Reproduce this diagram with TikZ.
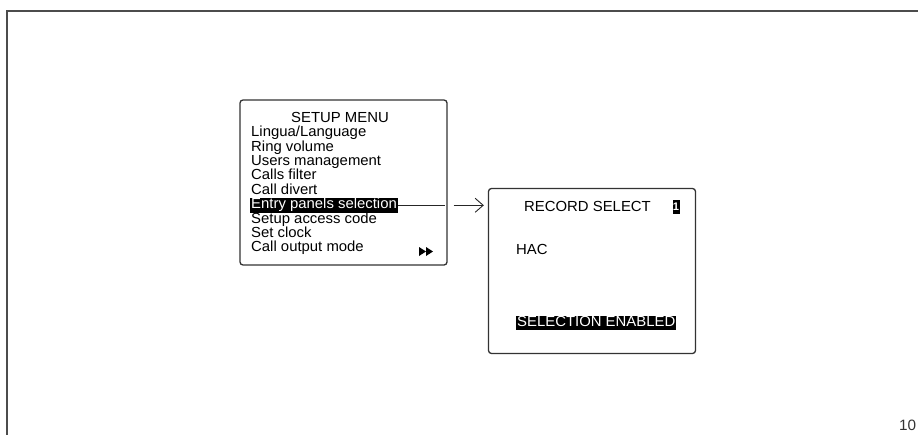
\documentclass[tikz,border=0pt]{standalone}
\usepackage{fontspec}
\setmainfont[FakeStretch=1.02]{Liberation Sans}
\usetikzlibrary{positioning,arrows.meta}

\tikzset{
  screen/.style={draw=black!80, line width=1.3pt, rounded corners=3pt,
    minimum width=207pt, minimum height=165pt, inner sep=0pt},
  item/.style={anchor=base west, inner sep=0pt, font=\fontsize{14.6}{14.4}\selectfont},
  inverse/.style={item, fill=black, text=white, inner xsep=1pt, inner ysep=0.8pt,
    text height=9.8pt, text depth=3pt},
  link/.style={black!85, line width=0.9pt},
}

\begin{document}
\begin{tikzpicture}[x=1pt,y=-1pt,node distance=14.4pt]
  \useasboundingbox (0,0) rectangle (918,434);
  % page frame
  \draw[black!70, line width=1.8pt] (7,440) -- (7,11) -- (925,11);

  % the two screens
  \node[screen] (menu) at (343.5,182.5) {};
  \node[screen] (record) at (592,271) {};

  % setup menu
  \node[item, anchor=base] (title) at (340,122.3) {SETUP MENU};
  \node[item] (lingua) at (251,136.7) {Lingua/Language};
  \node[item] (ring) [below=of lingua.base west, anchor=base west] {Ring volume};
  \node[item] (users) [below=of ring.base west, anchor=base west] {Users management};
  \node[item] (filter) [below=of users.base west, anchor=base west] {Calls filter};
  \node[item] (divert) [below=of filter.base west, anchor=base west] {Call divert};
  \node[inverse] (entry) [below=of divert.base west, anchor=base west, xshift=-1pt] {Entry panels selection};
  \node[item] (access) [below=of entry.base west, anchor=base west, xshift=1pt] {Setup access code};
  \node[item] (clock) [below=of access.base west, anchor=base west] {Set clock};
  \node[item] (output) [below=of clock.base west, anchor=base west] {Call output mode};
  \foreach \x in {419,426}
    \fill (\x,247) -- ++(7,4.5) -- ++(-7,4.5) -- cycle;

  % record select screen
  \node[item] (rectitle) at (524,211) {RECORD SELECT};
  \node[fill=black, text=white, minimum width=7pt, minimum height=14pt, inner sep=0pt,
    font=\fontsize{11}{11}\bfseries\selectfont] (recno) at (676,206.5) {1};
  \node[item] (hac) at (516,254) {HAC};
  \node[inverse] (enabled) at (516,326.5) {SELECTION ENABLED};

  % connection
  \draw[link] (entry.east) -- ([xshift=-3pt]menu.east |- entry.east);
  \draw[link, -{Straight Barb[length=8pt,width=14pt]}]
    ([xshift=6pt]menu.east |- entry.east) -- ([xshift=-4pt]record.west |- entry.east);

  \node[item, font=\fontsize{15}{15}\selectfont, text=black!80] (pageno) at (899,430) {10};
\end{tikzpicture}
\end{document}
